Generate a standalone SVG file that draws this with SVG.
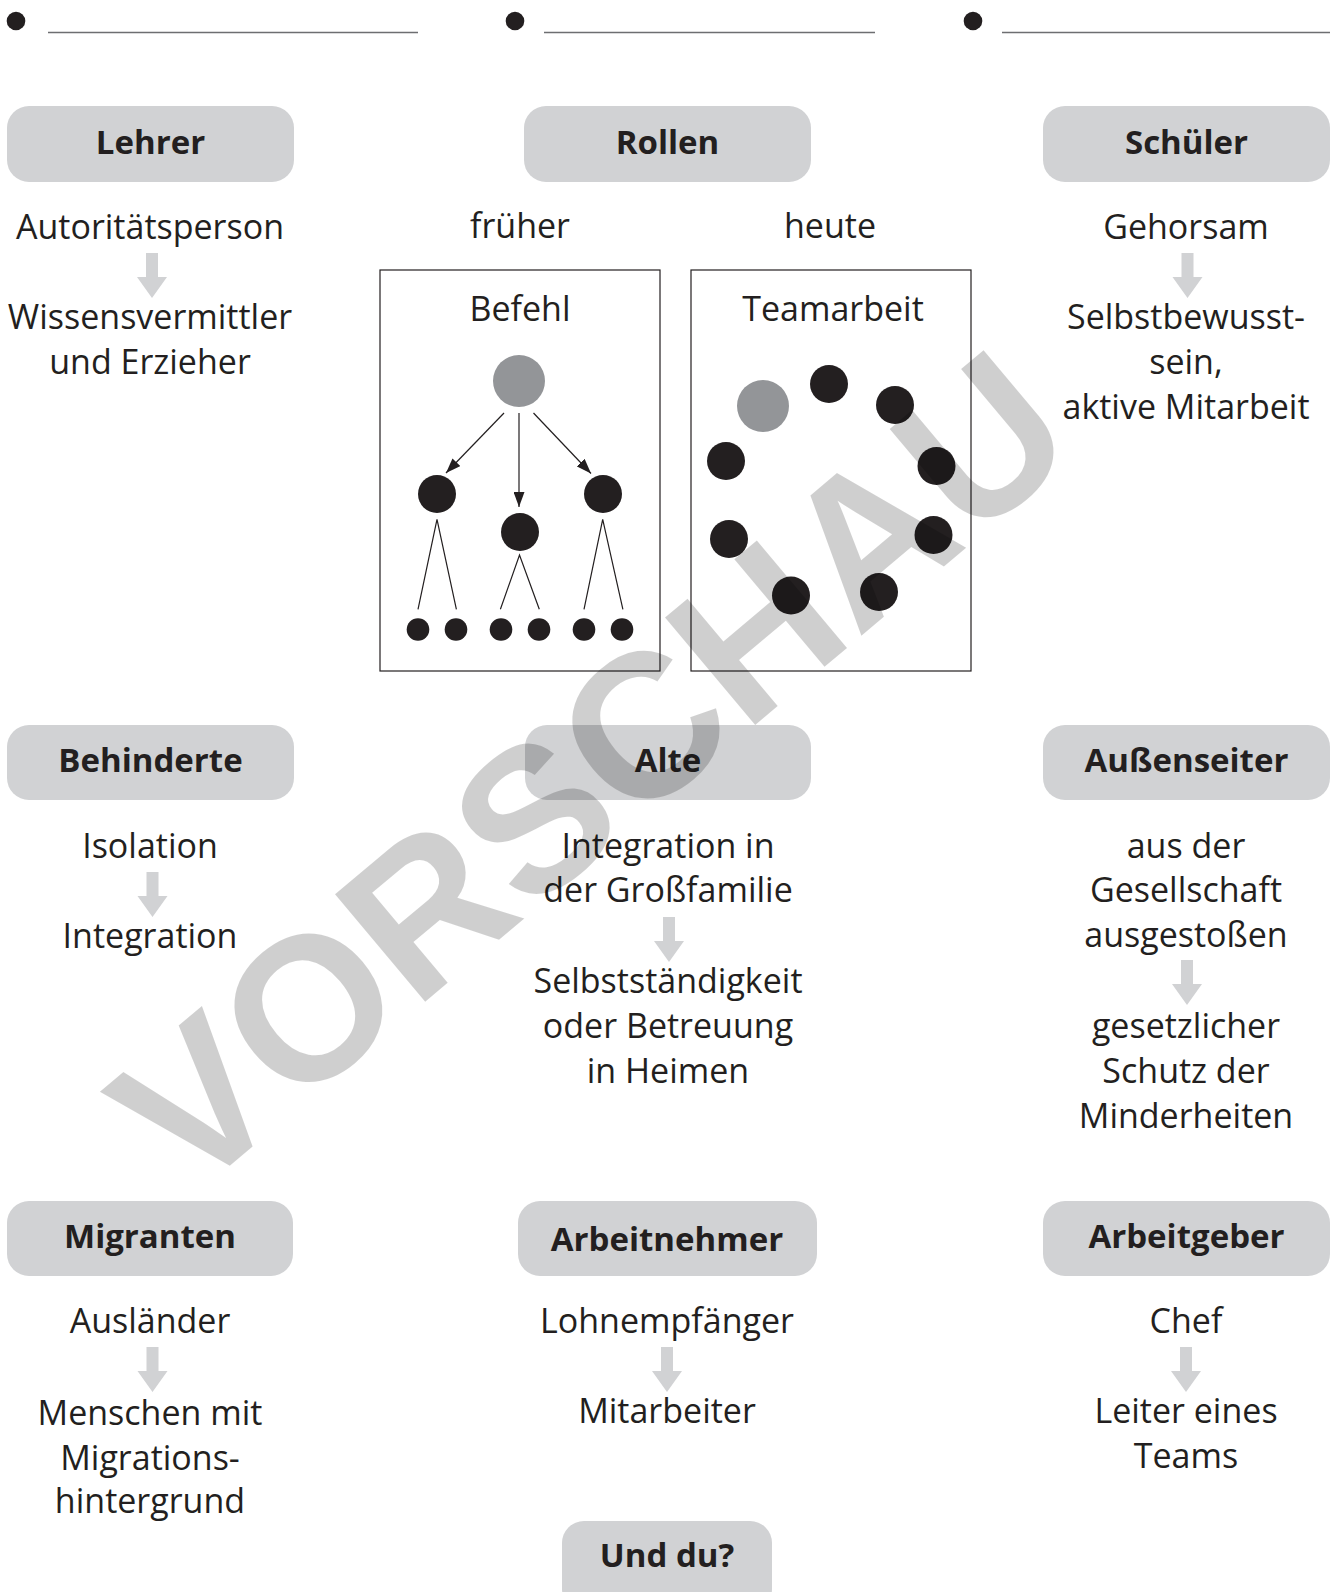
<svg xmlns="http://www.w3.org/2000/svg" xmlns:xlink="http://www.w3.org/1999/xlink" width="1335" height="1592" viewBox="0 0 1335 1592">
<style>
.box{fill:#d1d2d4}
.ttl{font-family:"Open Sans","Liberation Sans",sans-serif;font-weight:bold;font-size:33px;fill:#231f20;text-anchor:middle}
.txt{font-family:"Open Sans","Liberation Sans",sans-serif;font-size:34px;fill:#231f20;text-anchor:middle}
.dot{fill:#231f20}
.gdot{fill:#939598}
.frame{fill:none;stroke:#231f20;stroke-width:1.2}
.ln{stroke:#231f20;stroke-width:1.2;fill:none}
.blank{stroke:#6d6e71;stroke-width:1.3}
.wm{font-family:"Liberation Sans",Arial,sans-serif;font-weight:bold;font-size:204px;fill:#000;fill-opacity:0.19}
</style>
<defs>
<path id="down" d="M-6,0 H6 V24 H15 L0,45 L-15,24 H-6 Z" fill="#d1d2d4"/>
<marker id="ah" markerUnits="userSpaceOnUse" markerWidth="15" markerHeight="11" refX="15" refY="5.5" orient="auto">
<path d="M0,0 L15,5.5 L0,11 Z" fill="#231f20"/>
</marker>
</defs>
<rect width="1335" height="1592" fill="#fff"/>

<g id="blanks">
<circle class="dot" cx="16" cy="21" r="9.3"/>
<line class="blank" x1="48" y1="32.5" x2="418" y2="32.5"/>
<circle class="dot" cx="515" cy="21" r="9.3"/>
<line class="blank" x1="544" y1="32.5" x2="875" y2="32.5"/>
<circle class="dot" cx="973" cy="21" r="9.3"/>
<line class="blank" x1="1002" y1="32.5" x2="1330" y2="32.5"/>
</g>

<g id="lehrer">
<rect class="box" x="7" y="106" width="287" height="76" rx="22"/>
<text class="ttl" x="150.5" y="153.5">Lehrer</text>
<text class="txt" x="150" y="239">Autoritätsperson</text>
<text class="txt" x="150" y="329">Wissensvermittler</text>
<text class="txt" x="150" y="374">und Erzieher</text>
</g>

<g id="rollen">
<rect class="box" x="524" y="106" width="287" height="76" rx="22"/>
<text class="ttl" x="667.5" y="153.5">Rollen</text>
<text class="txt" x="520" y="238">früher</text>
<text class="txt" x="830" y="238">heute</text>
</g>

<g id="befehl">
<rect class="frame" x="380" y="270" width="280" height="401"/>
<text class="txt" x="520" y="321">Befehl</text>
<circle class="gdot" cx="519" cy="381" r="26"/>
<circle class="dot" cx="437" cy="494" r="19"/>
<circle class="dot" cx="520" cy="532" r="19"/>
<circle class="dot" cx="603" cy="494" r="19"/>
<circle class="dot" cx="418" cy="629.5" r="11.3"/>
<circle class="dot" cx="456" cy="629.5" r="11.3"/>
<circle class="dot" cx="501" cy="629.5" r="11.3"/>
<circle class="dot" cx="539" cy="629.5" r="11.3"/>
<circle class="dot" cx="584" cy="629.5" r="11.3"/>
<circle class="dot" cx="622" cy="629.5" r="11.3"/>
</g>

<g id="teamarbeit">
<rect class="frame" x="691" y="270" width="280" height="401"/>
<text class="txt" x="833" y="321">Teamarbeit</text>
<circle class="gdot" cx="763" cy="406" r="26"/>
<circle class="dot" cx="829" cy="384" r="19"/>
<circle class="dot" cx="895" cy="405" r="19"/>
<circle class="dot" cx="726" cy="461" r="19"/>
<circle class="dot" cx="936.5" cy="466" r="19"/>
<circle class="dot" cx="729" cy="539" r="19"/>
<circle class="dot" cx="933.5" cy="535" r="19"/>
<circle class="dot" cx="791" cy="595.5" r="19"/>
<circle class="dot" cx="879" cy="592" r="19"/>
</g>

<g id="schueler">
<rect class="box" x="1043" y="106" width="287" height="76" rx="22"/>
<text class="ttl" x="1186.5" y="153.5">Schüler</text>
<text class="txt" x="1186" y="239">Gehorsam</text>
<text class="txt" x="1186" y="329">Selbstbewusst-</text>
<text class="txt" x="1186" y="374">sein,</text>
<text class="txt" x="1186" y="419">aktive Mitarbeit</text>
</g>

<g id="behinderte">
<rect class="box" x="7" y="725" width="287" height="75" rx="22"/>
<text class="ttl" x="150.5" y="772">Behinderte</text>
<text class="txt" x="150" y="858">Isolation</text>
<text class="txt" x="150" y="948">Integration</text>
</g>

<g id="alte">
<rect class="box" x="525" y="725" width="286" height="75" rx="22"/>
<text class="ttl" x="668" y="772">Alte</text>
<text class="txt" x="668" y="858">Integration in</text>
<text class="txt" x="668" y="902">der Großfamilie</text>
<text class="txt" x="668" y="993">Selbstständigkeit</text>
<text class="txt" x="668" y="1038">oder Betreuung</text>
<text class="txt" x="668" y="1083">in Heimen</text>
</g>

<g id="aussenseiter">
<rect class="box" x="1043" y="725" width="287" height="75" rx="22"/>
<text class="ttl" x="1186.5" y="772">Außenseiter</text>
<text class="txt" x="1186" y="858">aus der</text>
<text class="txt" x="1186" y="902">Gesellschaft</text>
<text class="txt" x="1186" y="947">ausgestoßen</text>
<text class="txt" x="1186" y="1038">gesetzlicher</text>
<text class="txt" x="1186" y="1083">Schutz der</text>
<text class="txt" x="1186" y="1128">Minderheiten</text>
</g>

<g id="migranten">
<rect class="box" x="7" y="1201" width="286" height="75" rx="22"/>
<text class="ttl" x="150" y="1248">Migranten</text>
<text class="txt" x="150" y="1333">Ausländer</text>
<text class="txt" x="150" y="1425">Menschen mit</text>
<text class="txt" x="150" y="1470">Migrations-</text>
<text class="txt" x="150" y="1513">hintergrund</text>
</g>

<g id="arbeitnehmer">
<rect class="box" x="518" y="1201" width="299" height="75" rx="22"/>
<text class="ttl" x="667" y="1251">Arbeitnehmer</text>
<text class="txt" x="667" y="1333">Lohnempfänger</text>
<text class="txt" x="667" y="1423">Mitarbeiter</text>
</g>

<g id="arbeitgeber">
<rect class="box" x="1043" y="1201" width="287" height="75" rx="22"/>
<text class="ttl" x="1186.5" y="1248">Arbeitgeber</text>
<text class="txt" x="1186" y="1333">Chef</text>
<text class="txt" x="1186" y="1423">Leiter eines</text>
<text class="txt" x="1186" y="1468">Teams</text>
</g>

<g id="und-du">
<rect class="box" x="562" y="1521" width="210" height="90" rx="22"/>
<text class="ttl" x="667" y="1567">Und du?</text>
</g>

<g id="connectors">
<line class="ln" x1="504" y1="413" x2="446" y2="473" marker-end="url(#ah)"/>
<line class="ln" x1="519" y1="413" x2="519" y2="507" marker-end="url(#ah)"/>
<line class="ln" x1="533.5" y1="413" x2="591" y2="473.5" marker-end="url(#ah)"/>
<polyline class="ln" points="418,609.3 437,519.3 456.4,609.3"/>
<polyline class="ln" points="500.4,609.3 519.5,555 539.3,609.3"/>
<polyline class="ln" points="584,609.3 602.7,519.3 622.9,609.3"/>
<use xlink:href="#down" href="#down" x="152" y="253"/>
<use xlink:href="#down" href="#down" x="1187.5" y="253"/>
<use xlink:href="#down" href="#down" x="152.5" y="872"/>
<use xlink:href="#down" href="#down" x="669" y="917"/>
<use xlink:href="#down" href="#down" x="1187" y="960"/>
<use xlink:href="#down" href="#down" x="152.5" y="1347"/>
<use xlink:href="#down" href="#down" x="667" y="1347"/>
<use xlink:href="#down" href="#down" x="1186" y="1347"/>
</g>

<text class="wm" transform="translate(189,1200) rotate(-40)">VORSCHAU</text>
</svg>
